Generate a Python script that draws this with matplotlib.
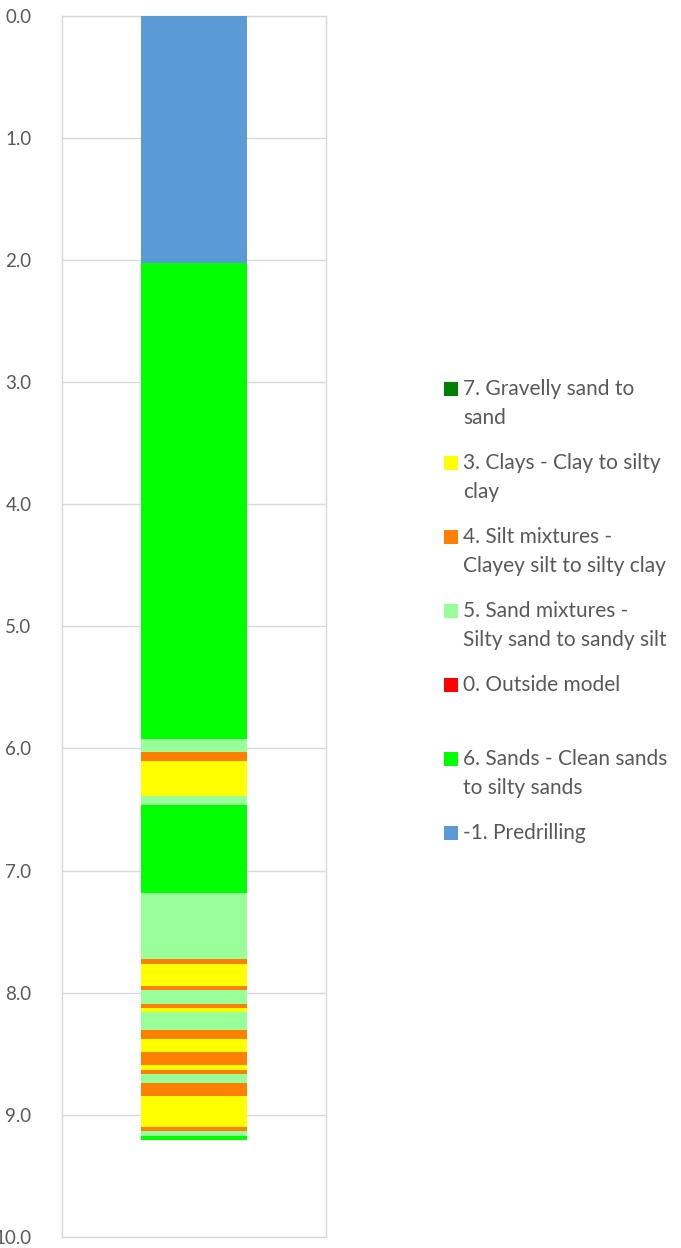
import matplotlib
matplotlib.use("Agg")
import matplotlib.pyplot as plt
from matplotlib.patches import Rectangle

plt.rcParams['font.family'] = ['Lato', 'DejaVu Sans']

# layer boundaries (depth, top -> bottom) and the soil class of each layer
layer_top = [0.0, 2.025, 5.924, 6.030, 6.104, 6.391, 6.464, 7.185, 7.726, 7.767,
             7.947, 7.980, 8.094, 8.127, 8.157, 8.307, 8.381, 8.487, 8.594, 8.635,
             8.667, 8.741, 8.848, 9.102, 9.135, 9.175]
layer_bottom = layer_top[1:] + [9.208]
layer_class = [-1, 6, 5, 4, 3, 5, 6, 5, 4, 3,
               4, 5, 4, 3, 5, 4, 3, 4, 3, 4,
               5, 4, 3, 4, 5, 6]

# legend order as in the original chart
legend_classes = [7, 3, 4, 5, 0, 6, -1]
legend_labels = {
    7: "7. Gravelly sand to\nsand",
    3: "3. Clays - Clay to silty\nclay",
    4: "4. Silt mixtures -\nClayey silt to silty clay",
    5: "5. Sand mixtures -\nSilty sand to sandy silt",
    0: "0. Outside model",
    6: "6. Sands - Clean sands\nto silty sands",
    -1: "-1. Predrilling",
}
class_colors = {
    7: "#008000",
    3: "#FFFF00",
    4: "#FF8000",
    5: "#99FF99",
    0: "#FF0000",
    6: "#00FF00",
    -1: "#5B9BD5",
}

y_ticks = [0, 1, 2, 3, 4, 5, 6, 7, 8, 9, 10]

W, H = 681, 1248
fig = plt.figure(figsize=(W / 100, H / 100), dpi=100)
ax = fig.add_axes([62 / W, 1 - 1237 / H, 264 / W, (1237 - 15.7) / H])

# one stacked column
for top, bot, cls in zip(layer_top, layer_bottom, layer_class):
    ax.bar(0, bot - top, bottom=top, width=0.405, color=class_colors[cls],
           linewidth=0, zorder=3)

ax.set_xlim(-0.5, 0.5)
ax.set_ylim(10, 0)
ax.set_yticks(y_ticks)
ax.set_yticklabels([f"{t:.1f}" for t in y_ticks])
ax.set_xticks([])
ax.tick_params(axis='y', length=0, pad=22, labelsize=13.5, labelcolor='#595959')
ax.grid(axis='y', color='#D9D9D9', linewidth=1, zorder=0)
for sp in ax.spines.values():
    sp.set_color('#D9D9D9')
    sp.set_linewidth(1)

# legend drawn by hand so every entry gets the same slot height
text_x = 463
for i, cls in enumerate(legend_classes):
    yc = 389 + 74 * i
    fig.add_artist(Rectangle((444 / W, 1 - (yc + 7) / H), 14 / W, 14 / H,
                             transform=fig.transFigure,
                             facecolor=class_colors[cls], edgecolor='none'))
    for k, line in enumerate(legend_labels[cls].split("\n")):
        fig.text(text_x / W, 1 - (yc + 29 * k) / H, line, fontsize=15,
                 color='#595959', ha='left', va='center')

fig.savefig("out.png", dpi=100)
